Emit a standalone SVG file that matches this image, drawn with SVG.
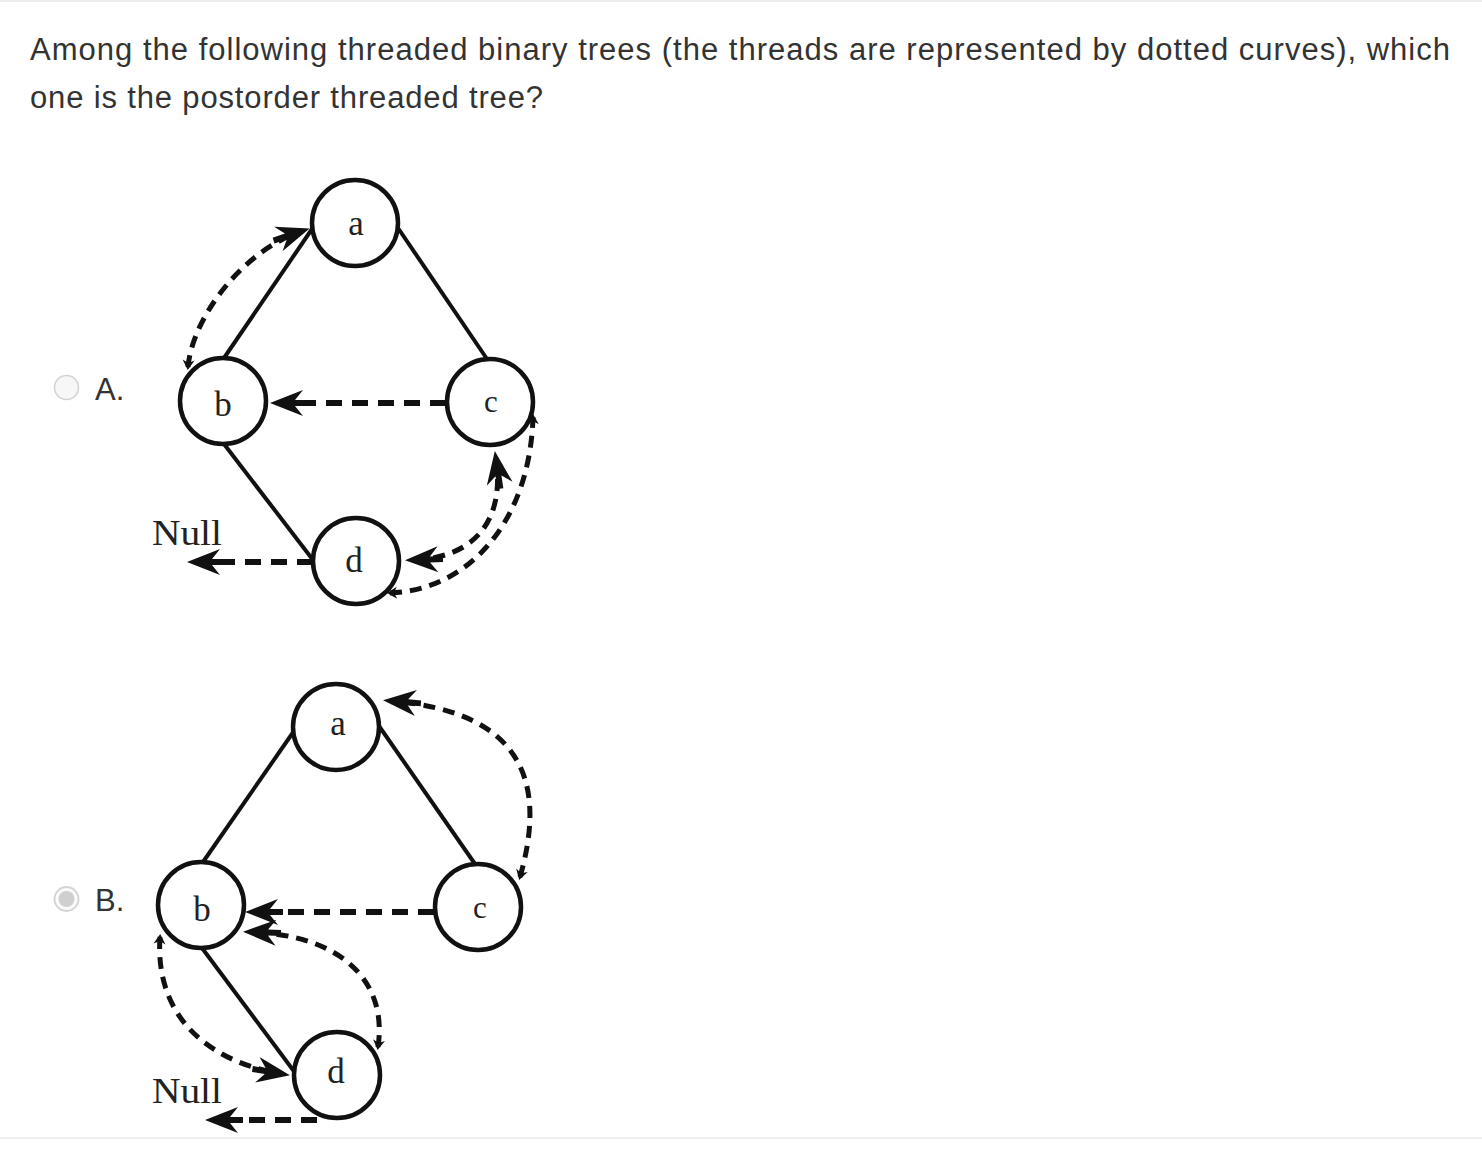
<svg xmlns="http://www.w3.org/2000/svg" width="1482" height="1150" viewBox="0 0 1482 1150">
  <defs>
    <style>
      .hdr { font-family: "Liberation Sans", Arial, sans-serif; font-size: 31px; fill: #333; }
      .opt { font-family: "Liberation Sans", Arial, sans-serif; font-size: 31px; fill: #333; }
      .node circle { fill: #fff; stroke: #111; stroke-width: 4.5; }
      .node text { font-family: "Liberation Serif", "Times New Roman", serif; font-size: 35px; fill: #222; text-anchor: middle; }
      .edge { stroke: #111; stroke-width: 4; fill: none; }
      .thread { stroke: #111; stroke-width: 5; fill: none; stroke-dasharray: 12 8; }
      .straight { stroke-width: 6; stroke-dasharray: 16 10; }
      .null { font-family: "Liberation Serif", "Times New Roman", serif; font-size: 36px; fill: #222; }
    </style>
    <marker id="arrow" viewBox="-34 -15 44 30" refX="0" refY="0" markerWidth="44" markerHeight="30" markerUnits="userSpaceOnUse" orient="auto-start-reverse">
      <path d="M8,0 L-25,-13 L-17,-3 L-30,-3 L-30,3 L-17,3 L-25,13 Z" fill="#111"/>
    </marker>
    <marker id="tick" viewBox="-10 -7 14 14" refX="0" refY="0" markerWidth="14" markerHeight="14" markerUnits="userSpaceOnUse" orient="auto-start-reverse">
      <path d="M3,0 L-7,-6 L-4,0 L-7,6 Z" fill="#111"/>
    </marker>
  </defs>

  <rect width="1482" height="1150" fill="#fff"/>
  <rect x="0" y="0" width="1482" height="2" fill="#ececec"/>
  <rect x="0" y="1137" width="1482" height="2" fill="#efefef"/>

  <g id="header">
    <text class="hdr" x="30" y="60" textLength="1420" lengthAdjust="spacing">Among the following threaded binary trees (the threads are represented by dotted curves), which</text>
    <text class="hdr" x="30" y="108" textLength="513" lengthAdjust="spacing">one is the postorder threaded tree?</text>
  </g>

  <g id="option-a-radio">
    <circle cx="66.5" cy="387.5" r="12" fill="#f7f7f7" stroke="#d3d3d3" stroke-width="1.6"/>
    <text class="opt" x="95" y="400">A.</text>
  </g>
  <g id="option-b-radio">
    <circle cx="66.5" cy="899" r="12" fill="#fafafa" stroke="#d3d3d3" stroke-width="1.8"/>
    <circle cx="66.5" cy="899" r="8" fill="#cfcfcf"/>
    <text class="opt" x="95" y="911">B.</text>
  </g>

  <!-- Tree A -->
  <g id="tree-a-connectors">
    <line class="edge" x1="224" y1="358" x2="312" y2="229"/>
    <line class="edge" x1="398" y1="228" x2="487" y2="359"/>
    <line class="edge" x1="224" y1="444" x2="313" y2="560"/>
    <path class="thread" d="M188,367 C192,320 240,252 302,231" marker-start="url(#tick)" marker-end="url(#arrow)"/>
    <path class="thread straight" d="M446,403 L278,403" marker-end="url(#arrow)"/>
    <path class="thread straight" d="M313,562 L195,562" marker-end="url(#arrow)"/>
    <path class="thread" d="M496,459 C505,520 475,558 413,560" marker-start="url(#arrow)" marker-end="url(#arrow)"/>
    <path class="thread" d="M390,593 C470,590 530,520 533,417" marker-start="url(#tick)" marker-end="url(#tick)"/>
  </g>
  <g id="tree-a-node-a" class="node"><circle cx="355" cy="223" r="43"/><text x="356" y="235">a</text></g>
  <g id="tree-a-node-b" class="node"><circle cx="223" cy="401" r="43"/><text x="223" y="416">b</text></g>
  <g id="tree-a-node-c" class="node"><circle cx="490" cy="402" r="43"/><text x="491" y="412" style="font-size:31px">c</text></g>
  <g id="tree-a-node-d" class="node"><circle cx="356" cy="561" r="43"/><text x="354" y="572">d</text></g>
  <text class="null" x="152" y="545" textLength="70" lengthAdjust="spacingAndGlyphs">Null</text>

  <!-- Tree B -->
  <g id="tree-b-connectors">
    <line class="edge" x1="203" y1="862" x2="294" y2="731"/>
    <line class="edge" x1="379" y1="726" x2="475" y2="864"/>
    <line class="edge" x1="202" y1="948" x2="296" y2="1074"/>
    <path class="thread" d="M520,877 C545,790 530,712 391,701" marker-start="url(#tick)" marker-end="url(#arrow)"/>
    <path class="thread straight" d="M434,912 L253,912" marker-end="url(#arrow)"/>
    <path class="thread" d="M378,1047 C388,980 340,935 251,932" marker-start="url(#tick)" marker-end="url(#arrow)"/>
    <path class="thread" d="M160,937 C155,1010 200,1060 282,1074" marker-start="url(#tick)" marker-end="url(#arrow)"/>
    <path class="thread straight" d="M317,1120 L213,1120" marker-end="url(#arrow)"/>
  </g>
  <g id="tree-b-node-a" class="node"><circle cx="336" cy="727" r="43"/><text x="338" y="735">a</text></g>
  <g id="tree-b-node-b" class="node"><circle cx="201" cy="905" r="43"/><text x="202" y="921">b</text></g>
  <g id="tree-b-node-c" class="node"><circle cx="478" cy="907" r="43"/><text x="480" y="918" style="font-size:31px">c</text></g>
  <g id="tree-b-node-d" class="node"><circle cx="337" cy="1075" r="43"/><text x="336" y="1083">d</text></g>
  <text class="null" x="152" y="1103" textLength="70" lengthAdjust="spacingAndGlyphs">Null</text>
</svg>
